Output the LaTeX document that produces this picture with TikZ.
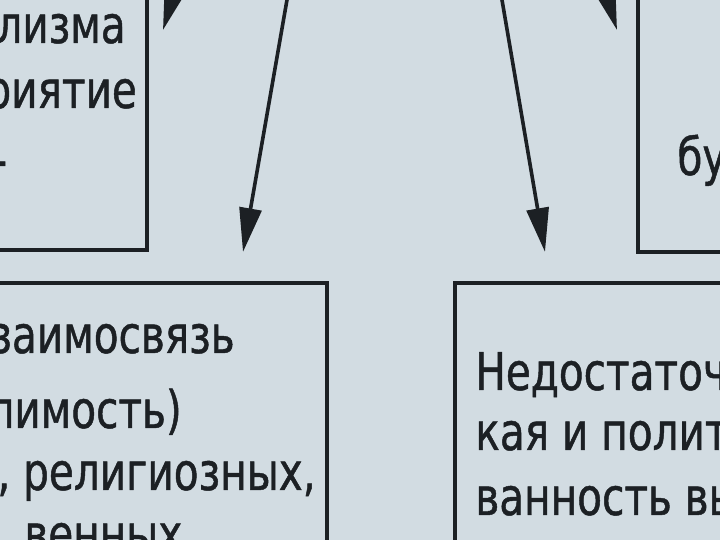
\documentclass[tikz,border=0pt]{standalone}
\usepackage{fontspec}
\setmainfont[FakeStretch=0.78, FakeBold=0.9]{DejaVu Sans}
\usepackage{tikz}
\usetikzlibrary{arrows.meta, positioning, fit}
\definecolor{paper}{RGB}{210,220,226}
\definecolor{ink}{RGB}{28,32,36}
\tikzset{
  box/.style ={draw=ink, line width=2pt, inner sep=0pt},
  txt/.style ={anchor=base west, inner sep=0pt, text=ink, font=\fontsize{26}{32}\selectfont},
  arr/.style ={-{Triangle[length=22pt, width=11pt]}, draw=ink, line width=1.8pt},
}
\begin{document}
\begin{tikzpicture}[x=0.5pt, y=-0.5pt]
  \useasboundingbox (0,0) rectangle (720,540);
  \fill[paper] (0,0) rectangle (720,540);
  \clip (0,0) rectangle (720,540);
  \node[box, fit={(-40,-40) (147,250)}] (tl) {};
  \node[box, fit={(638,-40) (760,252)}] (tr) {};
  \node[box, fit={(-40,283) (327,600)}] (bl) {};
  \node[box, fit={(455,283) (760,600)}] (br) {};
  \node[txt] (tl1) at (-4,43) {лизма};
  \node[txt] (tl2) at (-15,108) {риятие};
  \node[txt] (tl3) at (-8,178) {-};
  \node[txt] (tr1) at (677,175) {бу};
  \node[txt] (bl1) at (-10,353) {заимосвязь};
  \node[txt] (bl2) at (-12,428) {лимость)};
  \node[txt] (bl3) at (-3,490) {,~религиозных,};
  \node[txt] (bl4) at (24,552) {венных};
  \node[txt] (br1) at (475,390) {Недостаточ};
  \node[txt] (br2) at (475,450) {кая и полит};
  \node[txt] (br3) at (475,515) {ванность вы};
  \coordinate (s1) at (250,-258); \coordinate (e1) at (163,30);
  \coordinate (s2) at (332,-258); \coordinate (e2) at (243,252);
  \coordinate (s3) at (458,-258); \coordinate (e3) at (545,252);
  \coordinate (s4) at (530,-258); \coordinate (e4) at (617,30);
  \draw[arr] (s1) -- (e1); \draw[arr] (s2) -- (e2);
  \draw[arr] (s3) -- (e3); \draw[arr] (s4) -- (e4);
\end{tikzpicture}
\end{document}
